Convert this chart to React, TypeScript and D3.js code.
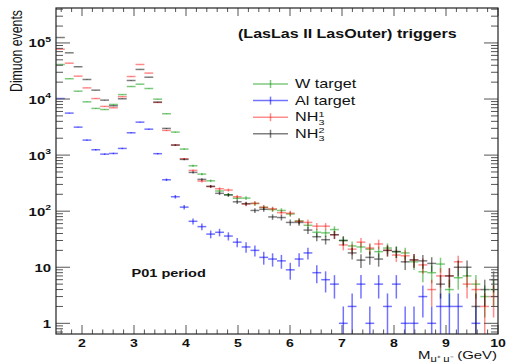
import React from "react";
import * as d3 from "d3";

// ---- data ----
const binCenters = [
  1.585, 1.755, 1.925, 2.095, 2.265, 2.435, 2.605, 2.775, 2.945, 3.115,
  3.285, 3.455, 3.625, 3.795, 3.965, 4.135, 4.305, 4.475, 4.645, 4.815,
  4.985, 5.155, 5.325, 5.495, 5.665, 5.835, 6.005, 6.175, 6.345, 6.515,
  6.685, 6.855, 7.025, 7.195, 7.365, 7.535, 7.705, 7.875, 8.045, 8.215,
  8.385, 8.555, 8.725, 8.895, 9.065, 9.235, 9.405, 9.575, 9.745, 9.915,
];
const binHalfWidth = 0.085;

const wTarget = [
  41300, 23000, 13800, 8900, 6800, 6500, 8000, 12000, 16700, 18400,
  15400, 9950, 5460, 2570, 1280, 645, 458, 348, 229, 196,
  170, 171, 137, 117, 107, 103, 89, 67, 56, 42,
  41, 47, 30, 24, 23, 21, 19, 22, 19, 18,
  12.5, 8.3, 8, 11.4, 4, 6.5, 7, 5, 3, 4,
];
const alTarget = [
  10200, 5610, 3150, 1850, 1245, 1040, 1070, 1315, 2500, 3870,
  2900, 1060, 363, 181, 118, 66, 53, 39, 42, 36,
  28, 23, 20, 15, 14, 13, 9, 14, 18, 8,
  6, 5, 1, 2, 5, 1, 5, 2, 5, 1,
  1, 3, 1, 2, 2, 2, 0, 1, 0, 0,
];
const nh3First = [
  77400, 43600, 25600, 15800, 10200, 7380, 6980, 11000, 25200, 41300,
  29000, 8690, 2750, 1510, 861, 533, 344, 275, 251, 238,
  181, 134, 138, 117, 110, 94, 92, 66, 63, 54,
  54, 38, 25, 21, 28, 22, 26, 20, 16.5, 16,
  13.5, 11, 4, 7, 7, 12.5, 5, 4, 2, 3,
];
const nh3Second = [
  125000, 66700, 37600, 22300, 14400, 9550, 7570, 10100, 21400, 33700,
  24500, 8810, 2990, 1510, 838, 491, 369, 277, 208, 195,
  147, 136, 103, 108, 79, 77, 63, 63, 46, 35,
  31, 38, 30, 18, 13.4, 15, 14, 20, 19, 12.5,
  13.5, 13, 11.7, 5, 7, 10, 10, 2, 4, 6,
];

const xTickValues = [2, 3, 4, 5, 6, 7, 8, 9, 10];
const yDecadeValues = [1, 10, 100, 1000, 10000, 100000];
const yDecadeExponents = [0, 1, 2, 3, 4, 5];

const seriesNames = ["W target", "Al target", "NH", "NH"];
const seriesSup = ["", "", "1", "2"];
const seriesColors = [
  "rgba(0,150,0,0.5)",
  "rgba(0,0,255,0.55)",
  "rgba(255,0,0,0.45)",
  "rgba(0,0,0,0.5)",
];
const seriesValues = [wTarget, alTarget, nh3First, nh3Second];

const titleText = "(LasLas II LasOuter) triggers";
const periodText = "P01 period";
const yTitle = "Dimuon events";

// ---- layout ----
const W = 507;
const H = 362;
const left = 56;
const right = 498;
const top = 8;
const bottom = 334;
const FONT = "'Liberation Sans', Arial, Helvetica, sans-serif";

export default function App() {
  const x = d3.scaleLinear().domain([1.5, 10]).range([left, right]);
  const y = d3.scaleLog().domain([0.645, 4.2e5]).range([bottom, top]);

  const xMinor = d3
    .range(16, 100, 2)
    .map((v) => v / 10)
    .filter((v) => Math.abs(v - Math.round(v)) > 1e-6);

  const yMinor: number[] = [];
  [0.1, 1, 10, 100, 1000, 10000, 100000].forEach((d) => {
    for (let k = 2; k <= 9; k++) {
      const v = k * d;
      if (v > 0.645 && v < 4.2e5) yMinor.push(v);
    }
  });

  const tickColor = "#555";

  return (
    <svg
      width={W}
      height={H}
      style={{ position: "absolute", left: 0, top: 0, background: "#fff" }}
      fontFamily={FONT}
    >
      <defs>
        <clipPath id="plotClip">
          <rect x={left} y={top} width={right - left} height={bottom - top} />
        </clipPath>
      </defs>
      <rect x={0} y={0} width={W} height={H} fill="#fff" />

      {/* data */}
      <g clipPath="url(#plotClip)">
        {seriesValues.map((vals, si) => (
          <g key={si} stroke={seriesColors[si]} strokeWidth={1.5} fill="none">
            {vals.map((v, i) => {
              if (!(v > 0)) return null;
              const c = binCenters[i];
              const err = Math.sqrt(v);
              const lo = v - err;
              const yLo = lo > 0.645 ? y(lo) : bottom + 2;
              const yHi = y(v + err);
              const yv = y(v);
              return (
                <g key={i}>
                  <line x1={x(c - binHalfWidth)} x2={x(c + binHalfWidth)} y1={yv} y2={yv} />
                  <line x1={x(c)} x2={x(c)} y1={yLo} y2={yHi} />
                </g>
              );
            })}
          </g>
        ))}
      </g>

      {/* ticks */}
      <g stroke={tickColor} strokeWidth={1}>
        {xTickValues.map((v) => (
          <g key={"xt" + v}>
            <line x1={x(v)} x2={x(v)} y1={bottom} y2={bottom - 9} />
            <line x1={x(v)} x2={x(v)} y1={top} y2={top + 8} />
          </g>
        ))}
        {xMinor.map((v) => (
          <g key={"xm" + v}>
            <line x1={x(v)} x2={x(v)} y1={bottom} y2={bottom - 4.5} />
            <line x1={x(v)} x2={x(v)} y1={top} y2={top + 4} />
          </g>
        ))}
        {yDecadeValues.map((v) => (
          <g key={"yt" + v}>
            <line x1={left} x2={left + 14} y1={y(v)} y2={y(v)} />
            <line x1={right} x2={right - 14} y1={y(v)} y2={y(v)} />
          </g>
        ))}
        {yMinor.map((v) => (
          <g key={"ym" + v}>
            <line x1={left} x2={left + 7} y1={y(v)} y2={y(v)} />
            <line x1={right} x2={right - 7} y1={y(v)} y2={y(v)} />
          </g>
        ))}
      </g>

      {/* frame */}
      <rect
        x={left}
        y={top}
        width={right - left}
        height={bottom - top}
        fill="none"
        stroke="#222"
        strokeWidth={1.2}
      />

      {/* x tick labels */}
      {xTickValues.map((v) => (
        <text
          key={"xl" + v}
          transform={`translate(${x(v)},347) scale(1.28,1)`}
          textAnchor="middle"
          fontSize={11}
          fontWeight="bold"
          fill="#111"
        >
          {v}
        </text>
      ))}

      {/* y tick labels */}
      {yDecadeValues.map((v, i) => {
        const e = yDecadeExponents[i];
        return (
          <text
            key={"yl" + v}
            transform={`translate(51,${y(v) + 4.5}) scale(1.3,1)`}
            textAnchor="end"
            fontSize={11.5}
            fontWeight="bold"
            fill="#111"
          >
            {e === 0 ? "1" : e === 1 ? "10" : (
              <>
                <tspan>10</tspan>
                <tspan fontSize={8} dy={-5.5}>{e}</tspan>
              </>
            )}
          </text>
        );
      })}

      {/* y title */}
      <text
        transform={`translate(22,92) scale(1.4,1) rotate(-90)`}
        fontSize={12.3}
        fill="#111"
        textLength={82}
        lengthAdjust="spacingAndGlyphs"
      >
        {yTitle}
      </text>

      {/* x title */}
      <text
        transform={`translate(497,359) scale(1.3,1)`}
        textAnchor="end"
        fontSize={11.5}
        fill="#111"
      >
        <tspan>M</tspan>
        <tspan fontSize={8.5} dy={2.5}>μ⁺ μ⁻</tspan>
        <tspan dy={-2.5}> (GeV)</tspan>
      </text>

      {/* title */}
      <text
        transform={`translate(238,37.7) scale(1.34,1)`}
        fontSize={12}
        fontWeight="bold"
        fill="#111"
      >
        {titleText}
      </text>

      {/* period label */}
      <text
        transform={`translate(131.5,277.3) scale(1.3,1)`}
        fontSize={11.2}
        fontWeight="bold"
        fill="#111"
      >
        {periodText}
      </text>

      {/* legend */}
      {seriesNames.map((name, i) => {
        const ly = 84 + i * 16.6;
        return (
          <g key={"lg" + i}>
            <line x1={253} x2={288} y1={ly} y2={ly} stroke={seriesColors[i]} strokeWidth={1.5} />
            <line x1={270.5} x2={270.5} y1={ly - 4} y2={ly + 4} stroke={seriesColors[i]} strokeWidth={1.5} />
            <text
              transform={`translate(295,${ly + 4}) scale(1.35,1)`}
              fontSize={12}
              fill="#111"
            >
              <tspan>{name}</tspan>
              {seriesSup[i] ? (
                <>
                  <tspan fontSize={8} dy={3.5}>3</tspan>
                  <tspan fontSize={8} dx={-4.45} dy={-8}>{seriesSup[i]}</tspan>
                </>
              ) : null}
            </text>
          </g>
        );
      })}
    </svg>
  );
}
